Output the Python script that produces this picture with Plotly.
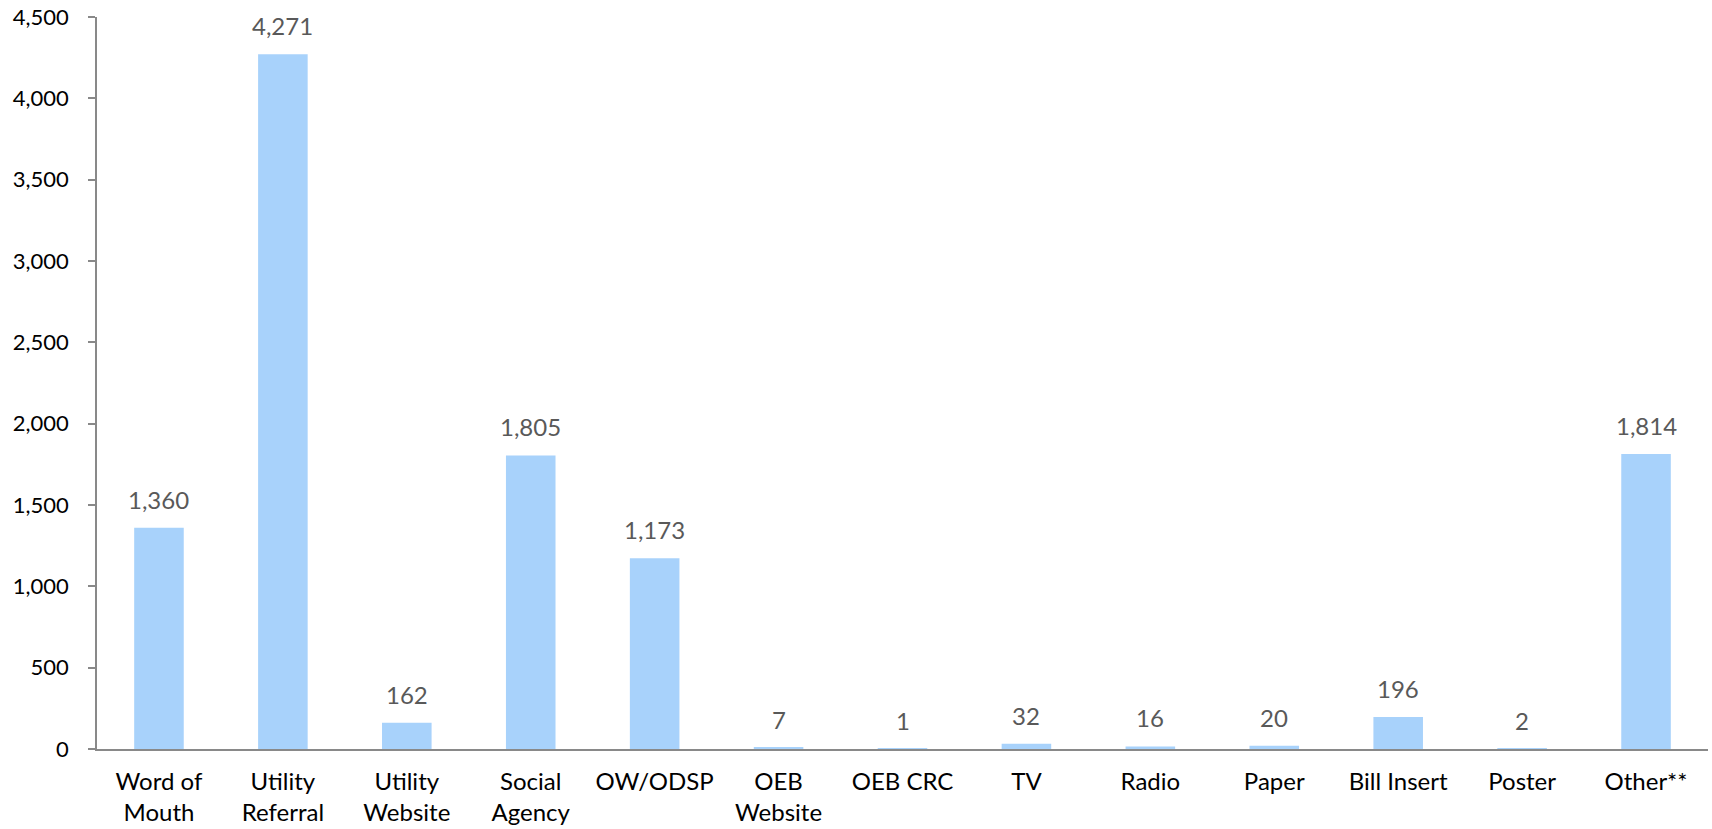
import plotly.graph_objects as go

categories = ["Word of<br>Mouth", "Utility<br>Referral", "Utility<br>Website", "Social<br>Agency",
              "OW/ODSP", "OEB<br>Website", "OEB CRC", "TV", "Radio", "Paper",
              "Bill Insert", "Poster", "Other**"]
values = [1360, 4271, 162, 1805, 1173, 7, 1, 32, 16, 20, 196, 2, 1814]
y_ticks = [0, 500, 1000, 1500, 2000, 2500, 3000, 3500, 4000, 4500]

FONT = "Lato, 'Open Sans', sans-serif"

fig = go.Figure()
fig.add_trace(go.Bar(
    x=categories, y=values,
    marker=dict(color="#A8D2FB", line=dict(width=0)),
    hoverinfo="skip",
))

for c, v in zip(categories, values):
    fig.add_annotation(
        x=c, y=v, text=f"{v:,}", showarrow=False,
        yanchor="bottom", yshift=12,
        font=dict(family=FONT, size=24, color="#595959"),
    )

fig.update_layout(
    width=1712, height=829,
    margin=dict(l=97, r=4, t=17, b=80),
    plot_bgcolor="white", paper_bgcolor="white",
    bargap=0.6, showlegend=False,
    font=dict(family=FONT, size=24, color="black"),
)
fig.update_xaxes(
    showline=True, linecolor="#898989", linewidth=1.5,
    ticks="", showgrid=False, automargin=False,
    tickfont=dict(family=FONT, size=24, color="black"),
    ticklabelstandoff=10,
)
fig.update_yaxes(
    range=[0, 4500], tickvals=y_ticks, tickformat=",",
    showline=True, linecolor="#898989", linewidth=1.5,
    ticks="outside", ticklen=7, tickcolor="#898989", tickwidth=1.5,
    showgrid=False, zeroline=False, automargin=False,
    tickfont=dict(family=FONT, size=22, color="black"),
    ticklabelstandoff=15,
)

fig.write_html("out.html", config={"displayModeBar": False},
               post_script="document.body.style.margin='0';")
